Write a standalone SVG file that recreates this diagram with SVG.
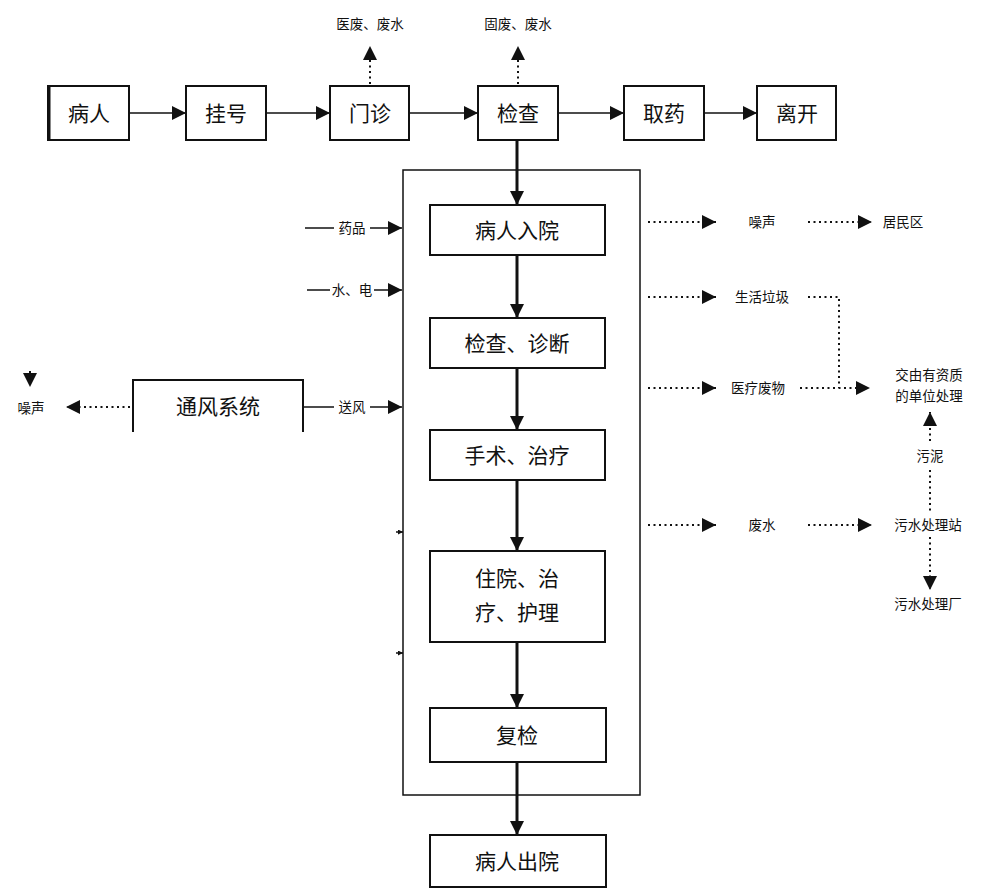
<svg xmlns="http://www.w3.org/2000/svg" width="981" height="888" viewBox="0 0 981 888">
<defs>
<style>
text{font-family:"Noto Sans CJK SC","Noto Sans",sans-serif;fill:#111}
.bt{font-size:21px;text-anchor:middle}
.sm{font-size:13.5px;text-anchor:middle}
.box{fill:#fff;stroke:#111;stroke-width:2}
.ln{stroke:#111;stroke-width:1.5;fill:none}
.thk{stroke:#111;stroke-width:3;fill:none}
.dot{stroke:#111;stroke-width:2;fill:none;stroke-dasharray:2 3.5}
</style>
<marker id="ah" viewBox="0 0 10 10" refX="10" refY="5" markerWidth="16" markerHeight="14" markerUnits="userSpaceOnUse" orient="auto"><path d="M0,0L10,5L0,10z" fill="#111"/></marker>
<marker id="ahs" viewBox="0 0 10 10" refX="10" refY="5" markerWidth="5" markerHeight="5" markerUnits="userSpaceOnUse" orient="auto"><path d="M0,0L10,5L0,10z" fill="#111"/></marker>
</defs>
<rect width="981" height="888" fill="#fff"/>

<g id="container"><rect x="403" y="170" width="237" height="625" fill="none" stroke="#111" stroke-width="1.5"/></g>

<g id="connectors">
<line class="ln" x1="129" y1="113" x2="186" y2="113" marker-end="url(#ah)"/>
<line class="ln" x1="266" y1="113" x2="330" y2="113" marker-end="url(#ah)"/>
<line class="ln" x1="409" y1="113" x2="478" y2="113" marker-end="url(#ah)"/>
<line class="ln" x1="558" y1="113" x2="624" y2="113" marker-end="url(#ah)"/>
<line class="ln" x1="704" y1="113" x2="757" y2="113" marker-end="url(#ah)"/>
<line class="dot" x1="370" y1="84" x2="370" y2="46" marker-end="url(#ah)"/>
<line class="dot" x1="518" y1="84" x2="518" y2="46" marker-end="url(#ah)"/>
<line class="thk" x1="517" y1="140" x2="517" y2="205" marker-end="url(#ah)"/>
<line class="thk" x1="517" y1="255" x2="517" y2="318" marker-end="url(#ah)"/>
<line class="thk" x1="517" y1="368" x2="517" y2="430" marker-end="url(#ah)"/>
<line class="thk" x1="517" y1="480" x2="517" y2="551" marker-end="url(#ah)"/>
<line class="thk" x1="517" y1="642" x2="517" y2="708" marker-end="url(#ah)"/>
<line class="thk" x1="517" y1="762" x2="517" y2="835" marker-end="url(#ah)"/>
<line class="ln" x1="305" y1="228" x2="334" y2="228"/>
<line class="ln" x1="370" y1="228" x2="402" y2="228" marker-end="url(#ah)"/>
<line class="ln" x1="307" y1="290" x2="330" y2="290"/>
<line class="ln" x1="374" y1="290" x2="402" y2="290" marker-end="url(#ah)"/>
<line class="ln" x1="303" y1="407" x2="334" y2="407"/>
<line class="ln" x1="370" y1="407" x2="402" y2="407" marker-end="url(#ah)"/>
<line class="dot" x1="130" y1="407" x2="66" y2="407" marker-end="url(#ah)"/>
<line class="dot" x1="30" y1="371" x2="30" y2="387" marker-end="url(#ah)"/>
<line class="ln" x1="396" y1="532" x2="403" y2="532" marker-end="url(#ahs)" stroke-width="0.5"/>
<line class="ln" x1="396" y1="653" x2="403" y2="653" marker-end="url(#ahs)" stroke-width="0.5"/>
<line class="dot" x1="648" y1="222" x2="716" y2="222" marker-end="url(#ah)"/>
<line class="dot" x1="808" y1="222" x2="872" y2="222" marker-end="url(#ah)"/>
<line class="dot" x1="648" y1="297" x2="716" y2="297" marker-end="url(#ah)"/>
<polyline class="dot" points="808,297 839,297 839,388"/>
<line class="dot" x1="648" y1="388" x2="716" y2="388" marker-end="url(#ah)"/>
<line class="dot" x1="800" y1="388" x2="870" y2="388" marker-end="url(#ah)"/>
<line class="dot" x1="930" y1="441" x2="930" y2="412" marker-end="url(#ah)"/>
<line class="dot" x1="930" y1="470" x2="930" y2="512"/>
<line class="dot" x1="648" y1="525" x2="716" y2="525" marker-end="url(#ah)"/>
<line class="dot" x1="808" y1="525" x2="872" y2="525" marker-end="url(#ah)"/>
<line class="dot" x1="930" y1="537" x2="930" y2="590" marker-end="url(#ah)"/>
</g>

<g id="n-bingren"><rect class="box" x="48" y="86" width="81" height="54"/><line x1="49" y1="86" x2="49" y2="140" stroke="#111" stroke-width="3"/><text class="bt" x="89" y="121">病人</text></g>
<g id="n-guahao"><rect class="box" x="186" y="86" width="80" height="54"/><text class="bt" x="226" y="121">挂号</text></g>
<g id="n-menzhen"><rect class="box" x="330" y="86" width="79" height="54"/><text class="bt" x="370" y="121">门诊</text></g>
<g id="n-jiancha"><rect class="box" x="478" y="86" width="80" height="54"/><text class="bt" x="518" y="121">检查</text></g>
<g id="n-quyao"><rect class="box" x="624" y="86" width="80" height="54"/><text class="bt" x="664" y="121">取药</text></g>
<g id="n-likai"><rect class="box" x="757" y="86" width="79" height="54" stroke-width="3"/><text class="bt" x="797" y="121">离开</text></g>

<g id="l-top1"><text class="sm" x="370" y="29">医废、废水</text></g>
<g id="l-top2"><text class="sm" x="518" y="29">固废、废水</text></g>

<g id="n-ruyuan"><rect class="box" x="430" y="205" width="175" height="50"/><text class="bt" x="517" y="238">病人入院</text></g>
<g id="n-zhenduan"><rect class="box" x="430" y="318" width="175" height="50"/><text class="bt" x="517" y="351">检查、诊断</text></g>
<g id="n-shoushu"><rect class="box" x="430" y="430" width="175" height="50"/><text class="bt" x="517" y="463">手术、治疗</text></g>
<g id="n-zhuyuan"><rect class="box" x="430" y="551" width="175" height="91"/><text class="bt" x="517" y="586">住院、治</text><text class="bt" x="517" y="620">疗、护理</text></g>
<g id="n-fujian"><rect class="box" x="430" y="708" width="176" height="54"/><text class="bt" x="517" y="743">复检</text></g>
<g id="n-chuyuan"><rect class="box" x="430" y="835" width="176" height="52"/><text class="bt" x="517" y="869">病人出院</text></g>

<g id="n-tongfeng"><polyline points="133,432 133,380 303,380 303,432" fill="none" stroke="#111" stroke-width="2"/><text class="bt" x="218" y="414">通风系统</text></g>

<g id="labels-left">
<text class="sm" x="352" y="233">药品</text>
<text class="sm" x="352" y="295">水、电</text>
<text class="sm" x="352" y="412">送风</text>
<text class="sm" x="31" y="413">噪声</text>
</g>

<g id="labels-right">
<text class="sm" x="762" y="227">噪声</text>
<text class="sm" x="903" y="227">居民区</text>
<text class="sm" x="762" y="302">生活垃圾</text>
<text class="sm" x="758" y="393">医疗废物</text>
<text class="sm" x="762" y="530">废水</text>
</g>

<g id="n-youzizhi"><text class="sm" x="929" y="380">交由有资质</text><text class="sm" x="929" y="401">的单位处理</text></g>
<g id="n-wuni"><text class="sm" x="930" y="461">污泥</text></g>
<g id="n-wushuizhan"><text class="sm" x="928" y="530">污水处理站</text></g>
<g id="n-wushuichang"><text class="sm" x="928" y="609">污水处理厂</text></g>
</svg>
